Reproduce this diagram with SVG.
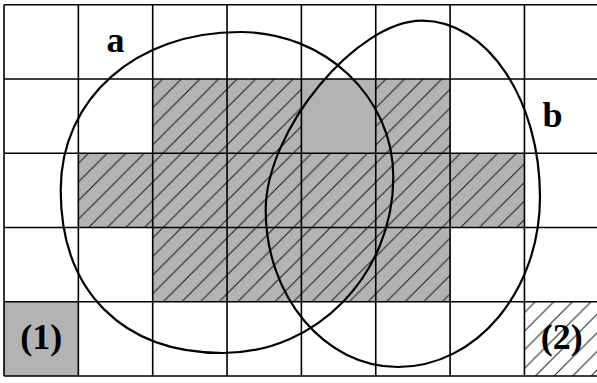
<svg xmlns="http://www.w3.org/2000/svg" width="597" height="383" viewBox="0 0 597 383">
  <defs>
    <pattern id="hatch" patternUnits="userSpaceOnUse" width="18.6" height="18.6">
      <path d="M-1,1 L1,-1 M0,18.6 L18.6,0 M17.6,19.6 L19.6,17.6" stroke="#1a1a1a" stroke-width="1"/>
    </pattern>
  </defs>
  <style>
    .gray { fill: #b3b3b3; }
    .hatch { fill: url(#hatch); }
    .grid { fill: none; stroke: #000; stroke-width: 1.6; }
    .set { fill: none; stroke: #000; stroke-width: 2.2; }
    .lbl { font-family: "Liberation Serif", "Times New Roman", serif; font-weight: bold; font-size: 36px; fill: #000; }
  </style>
  <rect width="597" height="383" fill="#fff"/>
  <g id="cells">
    <rect class="gray" x="152.7" y="78.95" width="297.4" height="74.25"/>
    <rect class="gray" x="78.35" y="153.2" width="446.1" height="74.25"/>
    <rect class="gray" x="152.7" y="227.45" width="297.4" height="74.25"/>
    <rect class="gray" x="4" y="301.7" width="74.35" height="74.25"/>
    <rect class="hatch" x="152.7" y="78.95" width="148.7" height="74.25"/>
    <rect class="hatch" x="375.75" y="78.95" width="74.35" height="74.25"/>
    <rect class="hatch" x="78.35" y="153.2" width="446.1" height="74.25"/>
    <rect class="hatch" x="152.7" y="227.45" width="297.4" height="74.25"/>
    <rect class="hatch" x="524.45" y="301.7" width="74.35" height="74.25"/>
  </g>
  <g id="grid">
    <path class="grid" d="M4,4.7 V375.95 M78.35,4.7 V375.95 M152.7,4.7 V375.95 M227.05,4.7 V375.95 M301.4,4.7 V375.95 M375.75,4.7 V375.95 M450.1,4.7 V375.95 M524.45,4.7 V375.95 M598.8,4.7 V375.95 M4,4.7 H598.8 M4,78.95 H598.8 M4,153.2 H598.8 M4,227.45 H598.8 M4,301.7 H598.8 M4,375.95 H598.8"/>
  </g>
  <g id="set-a">
    <path class="set" d="M240,32 C324.7,32 393.3,96.9 393.3,177 C393.3,274.2 317.1,353 223,353 C122.4,353 60.7,291 60.7,190 C60.7,98.4 136,32 240,32 Z"/>
    <text class="lbl" x="115.5" y="52" text-anchor="middle">a</text>
  </g>
  <g id="set-b">
    <path class="set" d="M422,20.7 C487.2,20.7 540,99.6 540,197 C540,290.9 476.4,367 398,367 C324.9,367 265.7,296.7 265.7,210 C265.7,130.5 356.4,20.7 422,20.7 Z"/>
    <text class="lbl" x="552.5" y="126.5" text-anchor="middle">b</text>
  </g>
  <g id="legend">
    <text class="lbl" x="41.2" y="349" text-anchor="middle">(1)</text>
    <text class="lbl" x="561.7" y="349" text-anchor="middle">(2)</text>
  </g>
</svg>
